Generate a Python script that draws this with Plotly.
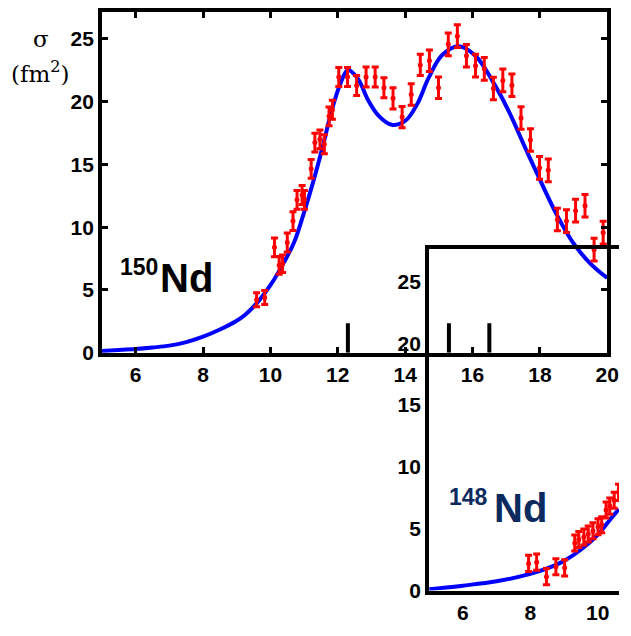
import plotly.graph_objects as go

# ---------------- data ----------------
# 150Nd measured cross-section (E in MeV, sigma in fm^2)
nd150_e = [9.59, 9.83, 10.12, 10.26, 10.36, 10.50, 10.67, 10.79, 10.94, 11.01,
           11.21, 11.32, 11.47, 11.60, 11.74, 11.84, 12.03, 12.29, 12.56, 12.84,
           13.11, 13.37, 13.64, 13.91, 14.18, 14.45, 14.72, 14.99, 15.28, 15.55,
           15.82, 16.09, 16.35, 16.62, 16.90, 17.17, 17.44, 17.72, 17.99, 18.25,
           18.52, 18.79, 19.06, 19.34, 19.61, 19.88]
nd150_sigma = [4.22, 4.40, 8.39, 6.96, 7.09, 8.78, 10.48, 12.17, 12.56, 12.17,
               14.64, 16.73, 16.99, 16.60, 18.82, 19.34, 21.95, 21.95, 21.27, 21.95,
               21.95, 21.09, 20.25, 18.76, 20.56, 22.91, 23.24, 21.09, 24.55, 25.20,
               23.64, 22.85, 22.60, 21.03, 21.68, 21.29, 18.69, 16.94, 14.72, 14.52,
               10.61, 10.48, 11.31, 11.70, 8.21, 9.56]
nd150_err = [0.55, 0.55, 0.75, 0.7, 0.7, 0.75, 0.75, 0.75, 0.75, 0.75,
             0.75, 0.75, 0.75, 0.75, 0.75, 0.75, 0.75, 0.75, 0.8, 0.8,
             0.8, 0.8, 0.85, 0.85, 0.85, 0.85, 0.85, 0.85, 0.9, 0.9,
             0.9, 0.9, 0.9, 0.9, 0.9, 0.9, 0.9, 0.9, 0.9, 0.9,
             0.9, 0.9, 0.9, 0.9, 0.9, 0.9]

# 150Nd calculated curve (read point by point)
nd150_fit_e = [5.0, 5.5, 6.0, 6.5, 7.0, 7.5, 8.0, 8.5, 9.0, 9.26, 9.64, 10.03,
               10.32, 10.7, 10.99, 11.28, 11.57, 11.81, 12.06, 12.3, 12.6, 12.9,
               13.2, 13.6, 14.0, 14.35, 14.7, 15.1, 15.6, 16.1, 16.6, 17.1, 17.55,
               18.05, 18.5, 19.0, 19.5, 20.0]
nd150_fit_sigma = [0.15, 0.22, 0.30, 0.42, 0.57, 0.85, 1.28, 1.85, 2.55, 3.05,
                   4.09, 5.50, 6.80, 8.78, 11.1, 13.7, 16.6, 19.2, 21.3, 22.5,
                   21.8, 20.1, 18.9, 18.15, 18.45, 19.75, 21.9, 23.7, 24.4, 23.6,
                   21.6, 19.1, 16.4, 13.5, 11.0, 8.7, 7.1, 5.95]

# transition sticks (energy, height)
stick_e = [12.3, 15.3, 16.5]
stick_h = [2.35, 2.35, 2.35]

# 148Nd measured cross-section
nd148_e = [7.95, 8.19, 8.48, 8.76, 9.02, 9.32, 9.44, 9.59, 9.72, 9.86,
           10.01, 10.12, 10.25, 10.36, 10.49, 10.62]
nd148_sigma = [2.20, 2.30, 1.13, 1.93, 1.84, 3.85, 4.13, 4.33, 4.58, 4.84,
               5.16, 5.32, 6.51, 6.83, 7.30, 7.94]
nd148_err = [0.65] * len(nd148_e)

# 148Nd calculated curve
nd148_fit_e = [5.0, 6.0, 7.0, 8.0, 8.5, 9.0, 9.5, 10.0, 10.3, 10.63]
nd148_fit_sigma = [0.12, 0.40, 0.75, 1.35, 1.80, 2.40, 3.30, 4.50, 5.50, 6.60]

y_ticks = [0, 5, 10, 15, 20, 25]
main_x_ticks = [6, 8, 10, 12, 14, 16, 18, 20]
inset_x_ticks = [6, 8, 10]

# ---------------- figure ----------------
W, H = 631, 636
RED = "#ff0000"
BLUE = "#0000ff"
NAVY = "#0b2a5e"
tickfont = dict(family="Liberation Sans", size=21, color="black", weight="bold")

fig = go.Figure()

sx, sy = [], []
for e, h in zip(stick_e, stick_h):
    sx += [e, e, None]
    sy += [0, h, None]
fig.add_trace(go.Scatter(x=sx, y=sy, mode="lines", line=dict(color="black", width=4),
                         xaxis="x", yaxis="y", hoverinfo="skip"))
fig.add_trace(go.Scatter(x=nd150_fit_e, y=nd150_fit_sigma, mode="lines",
                         line=dict(color=BLUE, width=4, shape="spline"),
                         xaxis="x", yaxis="y"))
fig.add_trace(go.Scatter(x=nd150_e, y=nd150_sigma, mode="markers",
                         marker=dict(color=RED, size=5),
                         error_y=dict(type="data", array=nd150_err, color=RED,
                                      thickness=3, width=3.5),
                         xaxis="x", yaxis="y"))
fig.add_trace(go.Scatter(x=nd148_fit_e, y=nd148_fit_sigma, mode="lines",
                         line=dict(color=BLUE, width=4, shape="spline"),
                         xaxis="x2", yaxis="y2"))
fig.add_trace(go.Scatter(x=nd148_e, y=nd148_sigma, mode="markers",
                         marker=dict(color=RED, size=5),
                         error_y=dict(type="data", array=nd148_err, color=RED,
                                      thickness=3, width=3.5),
                         xaxis="x2", yaxis="y2"))

axis_common = dict(showline=True, linewidth=4, linecolor="black", showgrid=False,
                   zeroline=False, tickfont=tickfont)

fig.update_layout(
    width=W, height=H, autosize=False,
    margin=dict(l=0, r=0, t=0, b=0),
    paper_bgcolor="white", plot_bgcolor="rgba(0,0,0,0)",
    showlegend=False,
    xaxis=dict(domain=[104 / W, 619 / W], range=[5, 20], anchor="y",
               tickvals=main_x_ticks, ticks="inside", ticklen=6, tickwidth=3,
               tickcolor="black", mirror="ticks", **axis_common),
    yaxis=dict(domain=[(H - 359) / H, (H - 12.5) / H], range=[0, 27.1], anchor="x",
               tickvals=y_ticks, ticks="inside", ticklen=6, tickwidth=3,
               tickcolor="black", mirror="ticks", **axis_common),
    xaxis2=dict(domain=[437.5 / W, 1.0], range=[5, 5 + (W - 437.5) / 34.35],
                anchor="y2", tickvals=inset_x_ticks, ticks="", mirror=True,
                **axis_common),
    yaxis2=dict(domain=[(H - 601) / H, (H - 253.5) / H], range=[0, 27.6],
                anchor="x2", tickvals=y_ticks, ticks="", mirror=False,
                **axis_common),
)

def px(x, y):
    return x / W, 1 - y / H

annots = [
    dict(text="σ", pos=(42, 40), size=23, family="DejaVu Serif", color="black", weight="normal", anchor="center"),
    dict(text="(fm<sup>2</sup>)", pos=(41, 73), size=23, family="DejaVu Serif", color="black", weight="normal", anchor="center"),
    dict(text="150", pos=(121, 272), size=23, family="Liberation Sans", color="black", weight="bold", anchor="left"),
    dict(text="Nd", pos=(162, 283), size=40, family="Liberation Sans", color="black", weight="bold", anchor="left"),
    dict(text="148", pos=(457, 506), size=23, family="Liberation Sans", color=NAVY, weight="bold", anchor="left"),
    dict(text="Nd", pos=(503, 517), size=40, family="Liberation Sans", color=NAVY, weight="bold", anchor="left"),
]
for a in annots:
    x, y = px(*a["pos"])
    fig.add_annotation(x=x, y=y, xref="paper", yref="paper", text=a["text"],
                       showarrow=False, xanchor=a["anchor"], yanchor="middle",
                       borderpad=0,
                       font=dict(family=a["family"], size=a["size"], color=a["color"],
                                 weight=a["weight"]))

# remove the default 8px page margin so the 631x636 figure fills the window
page_js = """
document.body.style.margin = '0';
document.documentElement.style.margin = '0';
"""

fig.write_html("out.html", post_script=page_js)
